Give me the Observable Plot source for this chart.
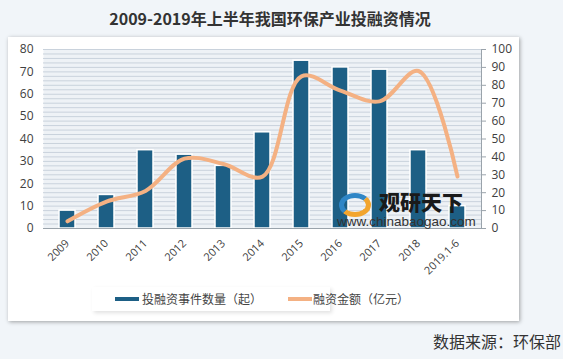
<!DOCTYPE html>
<html><head><meta charset="utf-8">
<script src="https://cdn.jsdelivr.net/npm/d3@7"></script>
<script src="https://cdn.jsdelivr.net/npm/@observablehq/plot@0.6"></script>
<style>
html,body{margin:0;padding:0;}
body{width:563px;height:359px;background:#f1f5f9;position:relative;overflow:hidden;font-family:"Noto Sans CJK SC","Noto Sans",sans-serif;}
#title{position:absolute;left:0;width:540px;top:7px;text-align:center;font-size:16px;font-weight:bold;color:#333;line-height:22px;}
#panel{position:absolute;left:8px;top:37px;width:511px;height:284px;background:#fff;box-shadow:1px 1px 4px rgba(0,0,0,0.35);}
#chart{position:absolute;left:0;top:40px;}
#legend{position:absolute;left:92px;top:287px;width:238px;height:24px;background:#fff;box-shadow:2px 2px 4px rgba(0,0,0,0.12);}
.sw{position:absolute;height:4px;width:24px;}
.lt{position:absolute;font-size:12px;color:#444;line-height:16px;white-space:nowrap;}
#source{position:absolute;left:433px;top:331px;font-size:16px;color:#333;white-space:nowrap;line-height:20px;}
#wm1{position:absolute;left:379px;top:191px;font-size:21px;font-weight:900;color:#1a1a1a;line-height:21px;white-space:nowrap;}
#wm2{position:absolute;left:337px;top:215px;font-family:"Liberation Sans",Arial,sans-serif;font-size:13.5px;color:#333;line-height:14px;white-space:nowrap;}
#logo{position:absolute;left:339px;top:193px;width:22px;height:14px;border-radius:50%;border:5px solid #2f86c6;border-bottom-color:#f2a52e;border-right-color:#f2a52e;}
</style></head>
<body>
<div id="title">2009-2019年上半年我国环保产业投融资情况</div>
<div id="panel"></div>
<div id="chart"></div>
<div id="legend"></div>
<div class="sw" style="left:115px;top:297px;background:#1d5f85;"></div>
<div class="lt" style="left:142px;top:291px;">投融资事件数量（起）</div>
<div class="sw" style="left:288px;top:297px;background:#f4b183;"></div>
<div class="lt" style="left:313px;top:291px;">融资金额（亿元）</div>
<div id="logo"></div>
<div id="wm1">观研天下</div>
<div id="wm2">www.chinabaogao.com</div>
<div id="source">数据来源：环保部</div>
<script>
const years = ["2009","2010","2011","2012","2013","2014","2015","2016","2017","2018","2019.1-6"];
const events = [8, 15, 35, 33, 28, 43, 75, 72, 71, 35, 10];
const amounts = [4, 15, 21, 39, 36, 29, 85, 77, 71, 88, 29];
const leftTicks = [0, 10, 20, 30, 40, 50, 60, 70, 80];
const rightTicks = [0, 10, 20, 30, 40, 50, 60, 70, 80, 90, 100];
const k = 80 / 100;
const data = years.map((y, i) => ({year: y, events: events[i], amount: amounts[i]}));
const stripes = d3.range(0, 81, 2);

const chart = Plot.plot({
  width: 520, height: 230,
  marginLeft: 43, marginRight: 39, marginTop: 9, marginBottom: 42,
  style: {fontFamily: "'Open Sans','Noto Sans',sans-serif", fontSize: "12px", color: "#404040", background: "transparent", overflow: "visible"},
  x: {type: "band", domain: years, paddingInner: 0.6, paddingOuter: 0.3},
  y: {domain: [0, 80]},
  marks: [
    Plot.frame({fill: "#eef2f6", stroke: null}),
    Plot.ruleY(stripes, {stroke: "#c9d2dc", strokeWidth: 1}),
    Plot.barY(data, {x: "year", y: "events", fill: "#1d5f85", stroke: "#ffffff", strokeWidth: 1.5}),
    Plot.line(data, {x: "year", y: d => d.amount * k, stroke: "#f4b183", strokeWidth: 4, curve: "catmull-rom"}),
    Plot.ruleY([0], {stroke: "#9aa3ab"}),
    Plot.frame({anchor: "right", stroke: "#9aa3ab"}),
    Plot.axisY(leftTicks, {anchor: "left", tickSize: 0, tickPadding: 10, label: null}),
    Plot.axisY(rightTicks.map(v => v * k), {anchor: "right", tickSize: 4, tickPadding: 6, stroke: "#9aa3ab", tickFormat: d => String(Math.round(d / k)), label: null}),
    Plot.axisX({tickRotate: -45, tickSize: 0, tickPadding: 13, fontSize: 11, label: null})
  ]
});
document.getElementById("chart").appendChild(chart);
</script>
</body></html>
